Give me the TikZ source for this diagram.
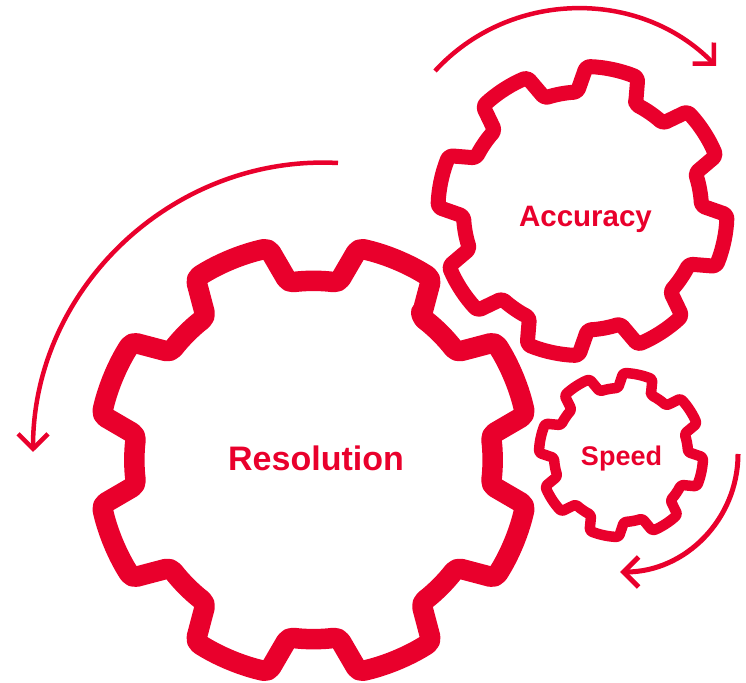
\documentclass[tikz,border=0pt]{standalone}
\usepackage{fontspec}
\setmainfont{Liberation Sans}
\usetikzlibrary{
  calc
  , arrows.meta
}
\definecolor{GearRed}{HTML}{E9002C}
\tikzset{
  gearline/.style={draw=GearRed, line join=round},
  turnarrow/.style={draw=GearRed, -{Straight Barb[length=15pt, width=30pt]}},
  gearlabel/.style={text=GearRed, font=\bfseries, anchor=base},
}
% one gear with eight teeth: centre, outer radius, inner radius, turn, corner
\newcommand{\GearAt}[6]{
  \begin{scope}[shift={#1}]
    \draw[gearline, line width=#6pt, rounded corners=#5pt]
    ({#4-14.5}:#3)
    \foreach \a in {0,45,...,315} {
      -- ({#4+\a-10.5}:#2)
      arc[start angle={#4+\a-10.5}, end angle={#4+\a+10.5}, radius=#2pt]
      -- ({#4+\a+14.5}:#3)
      arc[start angle={#4+\a+14.5}, end angle={#4+\a+30.5}, radius=#3pt]
    }
    -- cycle;
  \end{scope}
}
\begin{document}
\begin{tikzpicture}[x=1pt, y=1pt]
      \useasboundingbox (0,0) rectangle (746,682);

      \GearAt{(313.5,222)}{216.5}{179}{67.5}{5}{20.5}
      \node[gearlabel, font=\bfseries\fontsize{34}{36}\selectfont] (Resolution) at (316,211){Resolution};

      \GearAt{(582.5,471)}{144.5}{119}{78}{3.5}{15}
      \node[gearlabel, font=\bfseries\fontsize{29.5}{32}\selectfont] (Accuracy) at (585.5,455){Accuracy};

      \GearAt{(621,227)}{82}{67}{78}{2.5}{10.5}
      \node[gearlabel, font=\bfseries\fontsize{27}{30}\selectfont] (Speed) at (621.5,216.5){Speed};

      % arrows round the gears
      \coordinate (ResolutionA) at (338,519);
      \coordinate (ResolutionB) at (33,230);
      \coordinate (AccuracyA) at (435,611);
      \coordinate (AccuracyB) at (716,616);
      \coordinate (SpeedA) at (738,228);
      \coordinate (SpeedB) at (620,110);

      \draw[turnarrow, line width=4.5pt] (ResolutionA) to[bend right=46.5] (ResolutionB);
      \draw[turnarrow, line width=4.5pt] (AccuracyA) to[bend left=46.5] (AccuracyB);
      \draw[turnarrow, line width=5pt] (SpeedA) to[bend left=45] (SpeedB);
\end{tikzpicture}
\end{document}
